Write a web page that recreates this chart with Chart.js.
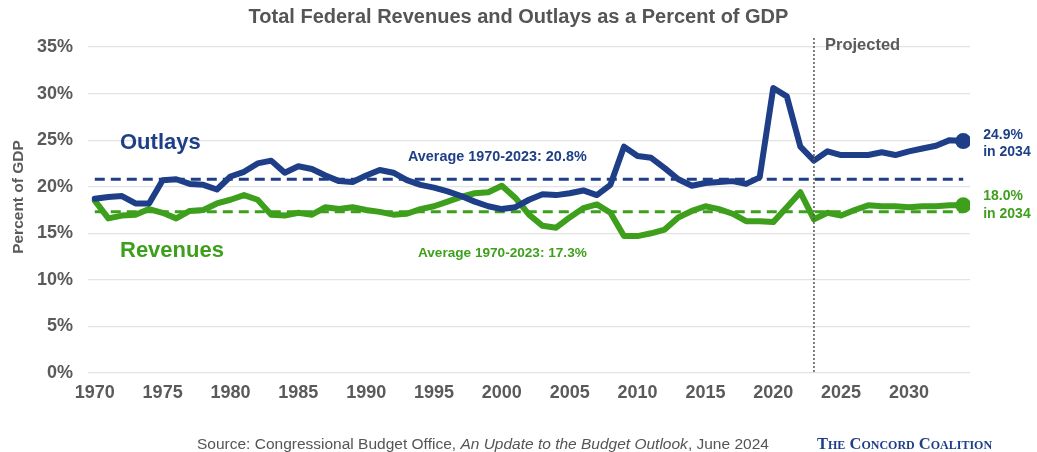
<!DOCTYPE html>
<html>
<head>
<meta charset="utf-8">
<script src="https://cdn.jsdelivr.net/npm/chart.js@4.4.1/dist/chart.umd.min.js"></script>
<style>
  html, body { margin: 0; padding: 0; background: #fff; }
  #wrap { position: relative; width: 1037px; height: 452px; overflow: hidden; }
  #chart { position: absolute; left: 0; top: 0; }
  .title { position: absolute; left: 0; width: 1037px; top: 5px; text-align: center;
    font: bold 20px "Liberation Sans", Arial, sans-serif; color: #555; }
  .source { position: absolute; left: 197px; top: 435px;
    font: 15.5px "Liberation Sans", sans-serif; color: #555; }
  .brand { position: absolute; left: 817px; top: 434px;
    font: bold 16.5px "Liberation Serif", serif; font-variant: small-caps; color: #1e3f87; }
</style>
</head>
<body>
<div id="wrap">
  <canvas id="chart" width="1037" height="452"></canvas>
  <div class="title">Total Federal Revenues and Outlays as a Percent of GDP</div>
  <div class="source">Source: Congressional Budget Office, <i>An Update to the Budget Outlook</i>, June 2024</div>
  <div class="brand">The Concord Coalition</div>
</div>
<script>
const years = [1970, 1971, 1972, 1973, 1974, 1975, 1976, 1977, 1978, 1979,
  1980, 1981, 1982, 1983, 1984, 1985, 1986, 1987, 1988, 1989,
  1990, 1991, 1992, 1993, 1994, 1995, 1996, 1997, 1998, 1999,
  2000, 2001, 2002, 2003, 2004, 2005, 2006, 2007, 2008, 2009,
  2010, 2011, 2012, 2013, 2014, 2015, 2016, 2017, 2018, 2019,
  2020, 2021, 2022, 2023, 2024, 2025, 2026, 2027, 2028, 2029,
  2030, 2031, 2032, 2033, 2034];

const outlays = [18.7, 18.9, 19.0, 18.2, 18.2, 20.7, 20.8, 20.3, 20.2, 19.7,
  21.1, 21.6, 22.5, 22.8, 21.5, 22.2, 21.9, 21.2, 20.6, 20.5,
  21.2, 21.8, 21.5, 20.7, 20.2, 19.9, 19.5, 19.0, 18.4, 17.9,
  17.6, 17.8, 18.6, 19.2, 19.1, 19.3, 19.6, 19.1, 20.2, 24.3,
  23.3, 23.1, 22.0, 20.8, 20.1, 20.4, 20.5, 20.6, 20.3, 21.0,
  30.6, 29.7, 24.3, 22.8, 23.8, 23.4, 23.4, 23.4, 23.7, 23.4,
  23.8, 24.1, 24.4, 25.0, 24.9];

const revenues = [18.5, 16.6, 16.9, 17.0, 17.6, 17.2, 16.6, 17.4, 17.5, 18.2,
  18.6, 19.1, 18.6, 17.0, 16.9, 17.2, 17.0, 17.8, 17.6, 17.8,
  17.5, 17.3, 17.0, 17.1, 17.6, 17.9, 18.4, 18.9, 19.3, 19.4,
  20.1, 18.8, 17.0, 15.8, 15.6, 16.7, 17.7, 18.1, 17.2, 14.7,
  14.7, 15.0, 15.4, 16.7, 17.4, 17.9, 17.6, 17.1, 16.3, 16.3,
  16.2, 17.8, 19.4, 16.5, 17.2, 16.9, 17.5, 18.0, 17.9, 17.9,
  17.8, 17.9, 17.9, 18.0, 18.0];

const avgSpan = [1970, 2034];
const avgOutlays = 20.8;
const avgRevenues = 17.3;
const projectionStart = 2023;
const xTicks = [1970, 1975, 1980, 1985, 1990, 1995, 2000, 2005, 2010, 2015, 2020, 2025, 2030];
const yTicks = [0, 5, 10, 15, 20, 25, 30, 35];

const BLUE = '#1e3f87';
const GREEN = '#3e9f1d';
const GRAY = '#5a5a5a';
const FONT = '"Liberation Sans", Arial, sans-serif';

const toPoints = (values) => values.map((v, i) => ({ x: years[i], y: v }));
const lastOnly = (values, r) => (ctx) => (ctx.dataIndex === values.length - 1 ? r : 0);

// text, dotted projection divider and end-of-series notes
const notes = {
  id: 'notes',
  afterDatasetsDraw(chart) {
    const { ctx, chartArea } = chart;
    const x = chart.scales.x;
    const y = chart.scales.y;
    ctx.save();

    const px = x.getPixelForValue(projectionStart);
    ctx.strokeStyle = '#555';
    ctx.lineWidth = 1.5;
    ctx.setLineDash([2, 2]);
    ctx.beginPath();
    ctx.moveTo(px, 38);
    ctx.lineTo(px, chartArea.bottom);
    ctx.stroke();
    ctx.setLineDash([]);

    const text = (str, tx, ty, color, size, align = 'left') => {
      ctx.fillStyle = color;
      ctx.font = `bold ${size}px ${FONT}`;
      ctx.textAlign = align;
      ctx.textBaseline = 'middle';
      ctx.fillText(str, tx, ty);
    };

    // rotated axis title
    ctx.save();
    ctx.translate(19, 197);
    ctx.rotate(-Math.PI / 2);
    text('Percent of GDP', 0, 0, GRAY, 15.5, 'center');
    ctx.restore();

    text('Projected', px + 11, 45, GRAY, 16.5);
    text('Outlays', 120, 143, BLUE, 22);
    text('Revenues', 120, 251, GREEN, 22);
    text(`Average 1970-2023: ${avgOutlays}%`, 408, 157, BLUE, 14.4);
    text(`Average 1970-2023: ${avgRevenues}%`, 418, 253, GREEN, 13.6);

    const endX = x.getPixelForValue(years[years.length - 1]) + 20;
    const oy = y.getPixelForValue(outlays[outlays.length - 1]);
    const ry = y.getPixelForValue(revenues[revenues.length - 1]);
    text(`${outlays[outlays.length - 1].toFixed(1)}%`, endX, oy - 6, BLUE, 14);
    text('in 2034', endX, oy + 11, BLUE, 14);
    text(`${revenues[revenues.length - 1].toFixed(1)}%`, endX, ry - 9, GREEN, 14);
    text('in 2034', endX, ry + 9, GREEN, 14);
    ctx.restore();
  },
};

new Chart(document.getElementById('chart'), {
  type: 'line',
  data: {
    datasets: [
      {
        label: 'Outlays', data: toPoints(outlays), borderColor: BLUE, backgroundColor: BLUE,
        borderWidth: 6, pointRadius: lastOnly(outlays, 8), pointBorderWidth: 0, tension: 0,
        borderJoinStyle: 'round', borderCapStyle: 'round', order: 1,
      },
      {
        label: 'Revenues', data: toPoints(revenues), borderColor: GREEN, backgroundColor: GREEN,
        borderWidth: 6, pointRadius: lastOnly(revenues, 8), pointBorderWidth: 0, tension: 0,
        borderJoinStyle: 'round', borderCapStyle: 'round', order: 2,
      },
      {
        label: 'Average outlays', data: avgSpan.map((yr) => ({ x: yr, y: avgOutlays })),
        borderColor: BLUE, borderWidth: 3, borderDash: [10, 6], pointRadius: 0, order: 3,
      },
      {
        label: 'Average revenues', data: avgSpan.map((yr) => ({ x: yr, y: avgRevenues })),
        borderColor: GREEN, borderWidth: 3, borderDash: [10, 6], pointRadius: 0, order: 4,
      },
    ],
  },
  options: {
    responsive: false,
    animation: false,
    layout: { padding: { left: 0, right: 67, top: 47, bottom: 0 } },
    plugins: { legend: { display: false }, tooltip: { enabled: false } },
    scales: {
      x: {
        type: 'linear', min: 1969.5, max: 2034.5,
        afterBuildTicks: (s) => { s.ticks = xTicks.map((v) => ({ value: v })); },
        afterFit: (s) => { s.height = 79; },
        grid: { display: false },
        border: { display: false },
        ticks: { color: GRAY, font: { family: FONT, size: 18, weight: 'bold' }, padding: 1, maxRotation: 0, autoSkip: false, callback: (v) => String(v) },
      },
      y: {
        min: 0, max: 35,
        afterBuildTicks: (s) => { s.ticks = yTicks.map((v) => ({ value: v })); },
        afterFit: (s) => { s.width = 88; },
        grid: { color: '#e3e3e3', lineWidth: 1.2, drawTicks: false },
        border: { display: false },
        ticks: { color: GRAY, font: { family: FONT, size: 18, weight: 'bold' }, padding: 15, callback: (v) => `${v}%` },
      },
    },
  },
  plugins: [notes],
});
</script>
</body>
</html>
